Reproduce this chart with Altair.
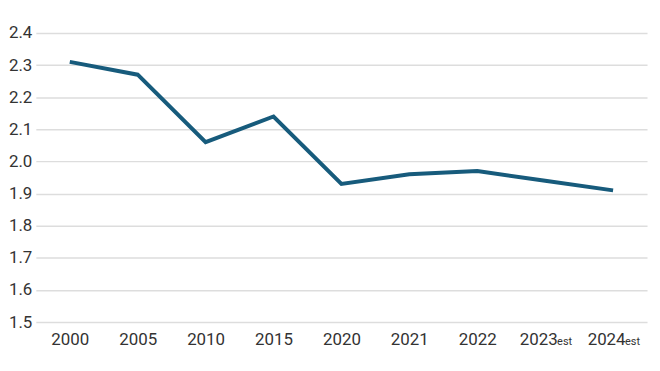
import altair as alt
import pandas as pd

years = ["2000", "2005", "2010", "2015", "2020", "2021", "2022", "2023est", "2024est"]
values = [2.31, 2.27, 2.06, 2.14, 1.93, 1.96, 1.97, 1.94, 1.91]
y_ticks = [1.5, 1.6, 1.7, 1.8, 1.9, 2.0, 2.1, 2.2, 2.3, 2.4]

df = pd.DataFrame({"year": years, "value": values})
df["suffix"] = df["year"].apply(lambda s: "est" if s.endswith("est") else "")
df["base"] = 1.5

FONT = "Roboto"
LABEL_COLOR = "#333333"

xscale = alt.Scale(domain=years, paddingInner=0, paddingOuter=0.5)
yscale = alt.Scale(domain=[1.5, 2.4], nice=False, zero=False)

line = alt.Chart(df).mark_line(color="#175b7c", strokeWidth=4, strokeJoin="miter").encode(
    x=alt.X("year:O", scale=xscale, sort=years, axis=alt.Axis(
        title=None, labelAngle=0, domain=False, ticks=False, grid=False,
        labelFont=FONT, labelFontSize=17, labelColor=LABEL_COLOR, labelPadding=10,
        labelOverlap=False,
        labelExpr="replace(datum.label, 'est', '')",
        labelOffset={"condition": {"test": "indexof(datum.label, 'est') >= 0", "value": -7}, "value": 0},
    )),
    y=alt.Y("value:Q", scale=yscale, axis=alt.Axis(
        title=None, values=y_ticks, tickCount=10, format=".1f", domain=False, ticks=False,
        gridColor="#dddddd", gridWidth=1.5, labelFont=FONT, labelFontSize=17,
        labelColor=LABEL_COLOR, labelPadding=4, labelOverlap=False, labelFlush=False,
    )),
)

suffix = alt.Chart(df).mark_text(
    font=FONT, fontSize=11, color=LABEL_COLOR, align="left", baseline="alphabetic", dx=12, dy=23
).encode(
    x=alt.X("year:O", scale=xscale, sort=years, axis=None),
    y=alt.Y("base:Q", scale=yscale, axis=None),
    text="suffix:N",
)

chart = (line + suffix).resolve_axis(y="independent", x="independent").properties(
    width=615, height=291,
    padding={"left": 0, "top": 15, "right": 5, "bottom": 5},
).configure_view(stroke=None)

chart.save("out.html", embed_options={"renderer": "svg", "actions": False})
